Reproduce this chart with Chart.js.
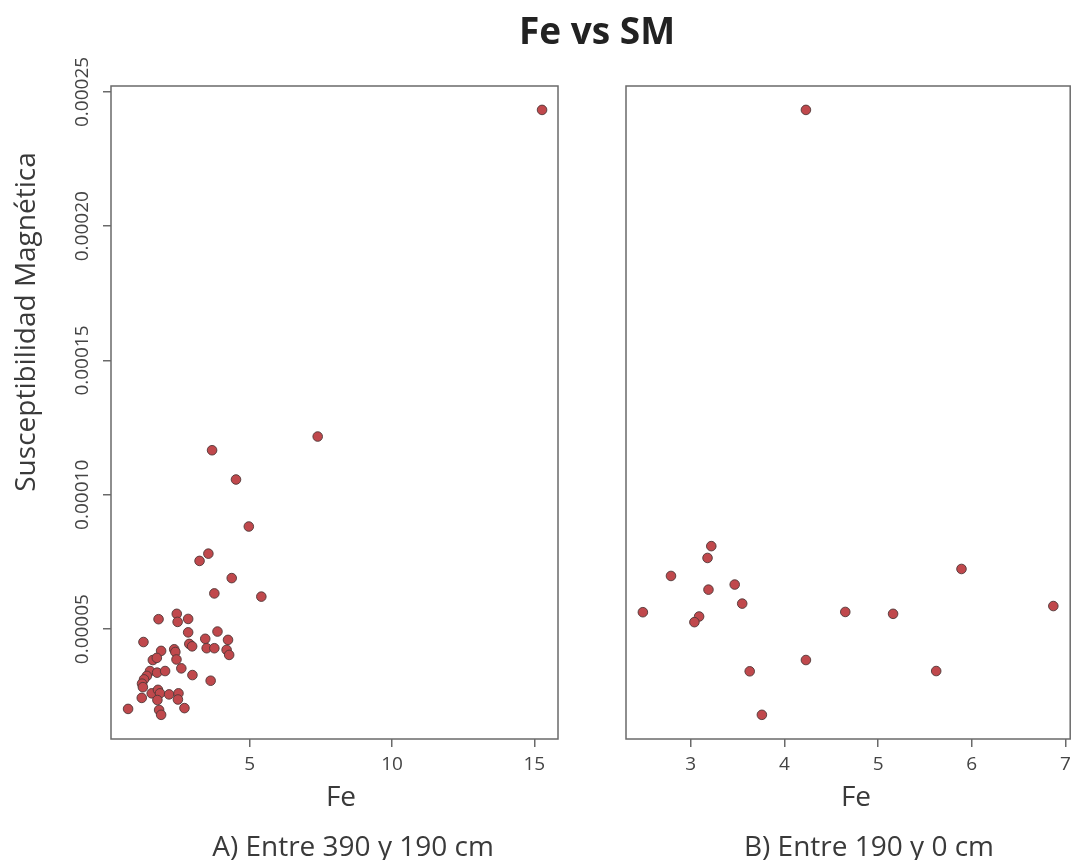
<!DOCTYPE html>
<html>
<head>
<meta charset="utf-8">
<script src="https://cdn.jsdelivr.net/npm/chart.js@4.4.1/dist/chart.umd.min.js"></script>
<style>
  html, body { margin: 0; padding: 0; background: #fff; }
  #wrap { position: relative; width: 1077px; height: 860px; }
  canvas { position: absolute; left: 0; top: 0; }
</style>
</head>
<body>
<div id="wrap">
  <canvas id="cA" width="1077" height="860"></canvas>
  <canvas id="cB" width="1077" height="860"></canvas>
</div>
<script>
// ---- Data ----
const titleText = "Fe vs SM";
const yTitle = "Susceptibilidad Magnética";
const xTitle = "Fe";
const subA = "A) Entre 390 y 190 cm";
const subB = "B) Entre 190 y 0 cm";

// Panel A: Entre 390 y 190 cm
const feA = [1.80, 2.44, 2.47, 2.84, 1.27, 2.84, 3.44, 3.49, 2.88, 2.98,
             1.89, 2.35, 2.39, 1.60, 1.74, 2.43, 2.60, 1.50, 1.75, 2.03,
             2.99, 1.39, 1.29, 1.22, 1.25, 3.63, 1.56, 1.78, 1.85, 1.76,
             2.17, 2.50, 2.48, 1.21, 0.73, 1.82, 1.89, 2.71, 3.87, 4.24,
             3.76, 4.19, 4.28, 3.76, 5.41, 3.55, 3.24, 4.37, 4.97, 4.52,
             3.68, 7.39, 15.27];
const smA = [5.37e-5, 5.57e-5, 5.27e-5, 5.38e-5, 4.52e-5, 4.88e-5, 4.64e-5, 4.29e-5, 4.45e-5, 4.36e-5,
             4.19e-5, 4.25e-5, 4.15e-5, 3.85e-5, 3.93e-5, 3.87e-5, 3.54e-5, 3.44e-5, 3.38e-5, 3.44e-5,
             3.29e-5, 3.26e-5, 3.13e-5, 2.97e-5, 2.84e-5, 3.08e-5, 2.61e-5, 2.74e-5, 2.61e-5, 2.36e-5,
             2.57e-5, 2.61e-5, 2.38e-5, 2.44e-5, 2.03e-5, 1.99e-5, 1.81e-5, 2.06e-5, 4.91e-5, 4.60e-5,
             4.29e-5, 4.23e-5, 4.04e-5, 6.33e-5, 6.21e-5, 7.81e-5, 7.54e-5, 6.90e-5, 8.82e-5, 10.57e-5,
             11.66e-5, 12.17e-5, 24.33e-5];

// Panel B: Entre 190 y 0 cm
const feB = [3.22, 3.18, 2.79, 3.19, 3.47, 3.55, 2.49, 3.09, 3.04, 3.63,
             4.23, 3.76, 4.65, 5.16, 5.62, 5.89, 6.87, 4.23];
const smB = [8.09e-5, 7.65e-5, 6.98e-5, 6.47e-5, 6.66e-5, 5.95e-5, 5.63e-5, 5.47e-5, 5.26e-5, 3.43e-5,
             3.85e-5, 1.81e-5, 5.64e-5, 5.57e-5, 3.44e-5, 7.24e-5, 5.86e-5, 24.33e-5];

// Axis ranges and ticks
const xRangeA = [0.13, 15.83];
const xTicksA = [5, 10, 15];
const xRangeB = [2.31, 7.05];
const xTicksB = [3, 4, 5, 6, 7];
const yRange = [0.0000091, 0.0002522];
const yTicks = [0.00005, 0.00010, 0.00015, 0.00020, 0.00025];

// ---- Styles ----
const FONT = "'Open Sans', 'DejaVu Sans', sans-serif";
const axisColor = '#6a6a6a';
const textColor = '#3a3a3a';
const pointFill = 'rgb(192,72,76)';
const pointBorder = 'rgba(80,55,55,0.9)';

function toXY(xs, ys) { return xs.map((x, i) => ({ x: x, y: ys[i] })); }

const boxPlugin = {
  id: 'box',
  afterDraw(chart) {
    const a = chart.chartArea, ctx = chart.ctx;
    ctx.save();
    ctx.strokeStyle = axisColor;
    ctx.lineWidth = 1.5;
    ctx.strokeRect(a.left, a.top, a.right - a.left, a.bottom - a.top);
    ctx.restore();
  }
};

function textPlugin(items) {
  return {
    id: 'texts',
    afterDraw(chart) {
      const ctx = chart.ctx;
      items.forEach(t => {
        ctx.save();
        ctx.fillStyle = t.color || textColor;
        ctx.font = t.font;
        ctx.textAlign = 'center';
        ctx.textBaseline = 'alphabetic';
        ctx.translate(t.x, t.y);
        if (t.rot) ctx.rotate(t.rot);
        ctx.fillText(t.text, 0, 0);
        ctx.restore();
      });
    }
  };
}

function xScale(range, ticks) {
  return {
    type: 'linear',
    min: range[0], max: range[1],
    afterBuildTicks: s => { s.ticks = ticks.map(v => ({ value: v })); },
    afterFit: s => { s.height = 121; },
    grid: { display: true, drawOnChartArea: false, drawTicks: true, tickLength: 8, color: axisColor, lineWidth: 1.5 },
    border: { display: false },
    ticks: { color: '#444', font: { family: FONT, size: 19 }, padding: 6, maxRotation: 0, minRotation: 0,
             callback: v => String(v) }
  };
}

Chart.defaults.animation = false;

new Chart(document.getElementById('cA'), {
  type: 'scatter',
  data: { datasets: [{ data: toXY(feA, smA), backgroundColor: pointFill, borderColor: pointBorder,
                       borderWidth: 1, pointRadius: 4.8 }] },
  options: {
    responsive: false, maintainAspectRatio: false,
    layout: { padding: { top: 86, right: 1077 - 558, bottom: 0, left: 0 } },
    plugins: { legend: { display: false }, tooltip: { enabled: false }, title: { display: false } },
    scales: {
      x: xScale(xRangeA, xTicksA),
      y: {
        type: 'linear', min: yRange[0], max: yRange[1],
        afterBuildTicks: s => { s.ticks = yTicks.map(v => ({ value: v })); },
        afterFit: s => { s.width = 111; },
        grid: { display: true, drawOnChartArea: false, drawTicks: true, tickLength: 8, color: axisColor, lineWidth: 1.5 },
        border: { display: false },
        ticks: { color: '#444', font: { family: FONT, size: 19 }, padding: -15,
                 minRotation: 90, maxRotation: 90, crossAlign: 'center',
                 callback: v => v.toFixed(5) }
      }
    }
  },
  plugins: [boxPlugin, textPlugin([
    { text: titleText, x: 597, y: 44, font: 'bold 37px ' + FONT, color: '#222' },
    { text: yTitle, x: 35, y: 322, rot: -Math.PI / 2, font: '28px ' + FONT },
    { text: xTitle, x: 341, y: 806, font: '28px ' + FONT },
    { text: subA, x: 353, y: 856, font: '28px ' + FONT },
    { text: xTitle, x: 856, y: 806, font: '28px ' + FONT },
    { text: subB, x: 869, y: 856, font: '28px ' + FONT }
  ])]
});

new Chart(document.getElementById('cB'), {
  type: 'scatter',
  data: { datasets: [{ data: toXY(feB, smB), backgroundColor: pointFill, borderColor: pointBorder,
                       borderWidth: 1, pointRadius: 4.8 }] },
  options: {
    responsive: false, maintainAspectRatio: false,
    layout: { padding: { top: 86, right: 1077 - 1073, bottom: 0, left: 626 } },
    plugins: { legend: { display: false }, tooltip: { enabled: false }, title: { display: false } },
    scales: {
      x: xScale(xRangeB, xTicksB),
      y: { type: 'linear', min: yRange[0], max: yRange[1], display: false }
    }
  },
  plugins: [boxPlugin]
});
</script>
</body>
</html>
